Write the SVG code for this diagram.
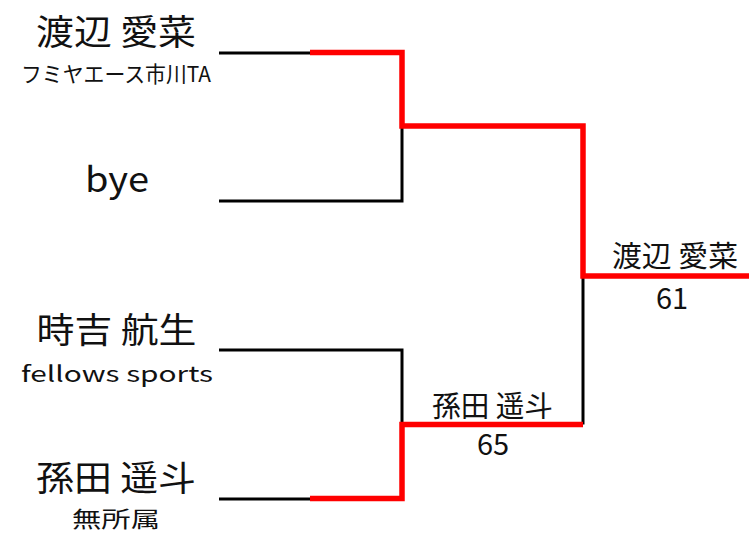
<svg xmlns="http://www.w3.org/2000/svg" width="749" height="534" viewBox="0 0 749 534">
<style>
text{font-family:"Noto Sans CJK JP","Noto Sans",sans-serif;fill:#111;text-anchor:middle}
.big{font-size:35px}
.small{font-size:22px}
.mid{font-size:29px}
.lose{fill:none;stroke:#000;stroke-width:3}
.win{fill:none;stroke:#f00;stroke-width:5.5}
</style>
<rect width="749" height="534" fill="#fff"/>
<g id="connectors">
<path class="lose" d="M219,53 H310"/>
<path class="lose" d="M219,201 H402 V126"/>
<path class="lose" d="M219,350 H402 V424.5"/>
<path class="lose" d="M219,499 H310"/>
<path class="lose" d="M583,424.5 V276"/>
<path class="win" d="M310,52.5 H402 V126 H583 V276 H749"/>
<path class="win" d="M310,498.5 H402 V424.5 H583"/>
</g>
<g id="p1">
<text class="big" x="116" y="45" textLength="160" lengthAdjust="spacingAndGlyphs">渡辺 愛菜</text>
<text class="small" x="116" y="82" textLength="190" lengthAdjust="spacingAndGlyphs">フミヤエース市川TA</text>
</g>
<g id="p2">
<text class="big" x="117" y="192" font-size="38" textLength="64" lengthAdjust="spacingAndGlyphs">bye</text>
</g>
<g id="p3">
<text class="big" x="116.5" y="343" textLength="160" lengthAdjust="spacingAndGlyphs">時吉 航生</text>
<text class="small" x="117" y="382" font-size="30" textLength="192" lengthAdjust="spacingAndGlyphs">fellows sports</text>
</g>
<g id="p4">
<text class="big" x="116" y="491" textLength="160" lengthAdjust="spacingAndGlyphs">孫田 遥斗</text>
<text class="small" x="116" y="527" textLength="88" lengthAdjust="spacingAndGlyphs">無所属</text>
</g>
<g id="r1">
<text class="mid" x="492.5" y="417" textLength="121" lengthAdjust="spacingAndGlyphs">孫田 遥斗</text>
<text class="mid" x="493" y="455">65</text>
</g>
<g id="r2">
<text class="mid" x="675" y="267" textLength="126" lengthAdjust="spacingAndGlyphs">渡辺 愛菜</text>
<text class="mid" x="672" y="309">61</text>
</g>
</svg>
